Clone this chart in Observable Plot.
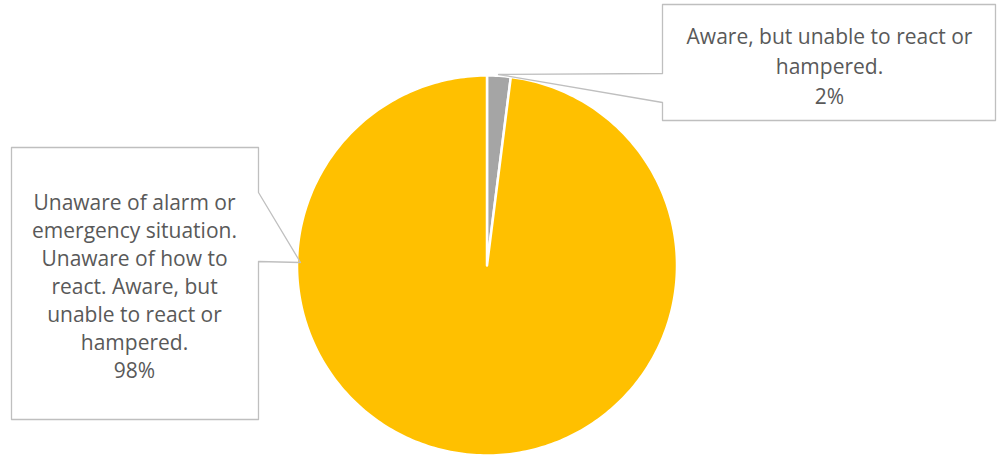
<!DOCTYPE html>
<html><head><meta charset="utf-8">
<script src="https://cdn.jsdelivr.net/npm/d3@7"></script>
<script src="https://cdn.jsdelivr.net/npm/@observablehq/plot@0.6"></script>
<style>body{margin:0;background:#fff;} svg{display:block;}</style>
</head><body><div id="chart"></div>
<script>
// ---- data ----
const categories = [
  "Aware, but unable to react or hampered.",
  "Unaware of alarm or emergency situation. Unaware of how to react. Aware, but unable to react or hampered."
];
const values = [2, 98];
const sliceColors = ["#A5A5A5", "#FFC000"];
const labelLines = [
  ["Aware, but unable to react or", "hampered."],
  ["Unaware of alarm or", "emergency situation.", "Unaware of how to", "react. Aware, but", "unable to react or", "hampered."]
];

// ---- layout ----
const W = 997, H = 456;
const cx = 486.5, cy = 265, R = 190;
const FONT = "Open Sans";
const FS = 21;
const textColor = "#595959";
const calloutColor = "#BFBFBF";

const total = d3.sum(values);
const pctLabels = values.map(v => Math.round(v / total * 100) + "%");

const arcs = d3.pie().sort(null).startAngle(0).endAngle(2 * Math.PI)(values);
const slicePts = [];
arcs.forEach((a, i) => {
  const cat = categories[i];
  slicePts.push({cat, x: cx, y: cy});
  const n = Math.max(4, Math.ceil((a.endAngle - a.startAngle) / (Math.PI / 180)));
  for (let k = 0; k <= n; k++) {
    const t = a.startAngle + (a.endAngle - a.startAngle) * k / n;
    slicePts.push({cat, x: cx + R * Math.sin(t), y: cy - R * Math.cos(t)});
  }
  slicePts.push({cat, x: cx, y: cy});
});

// callout geometry
const boxes = [
  {id: 0, left: 662, top: 4, right: 995, bottom: 120, tip: [498, 74], side: "left", a: 73, b: 102, textX: 829, textY: 37, step: 30},
  {id: 1, left: 11, top: 147, right: 258, bottom: 419, tip: [300, 262], side: "right", a: 192, b: 261, textX: 134, textY: 203, step: 28}
];
const calloutPts = [];
boxes.forEach(b => {
  const pts = b.side === "left"
    ? [[b.left, b.top], [b.right, b.top], [b.right, b.bottom], [b.left, b.bottom], [b.left, b.b], b.tip, [b.left, b.a], [b.left, b.top]]
    : [[b.left, b.top], [b.right, b.top], [b.right, b.a], b.tip, [b.right, b.b], [b.right, b.bottom], [b.left, b.bottom], [b.left, b.top]];
  pts.forEach(([x, y]) => calloutPts.push({id: b.id, x, y}));
});
const textRows = [];
boxes.forEach(b => {
  const lines = [...labelLines[b.id], pctLabels[b.id]];
  lines.forEach((t, i) => textRows.push({t, x: b.textX, y: b.textY + i * b.step}));
});

const chart = Plot.plot({
  width: W, height: H,
  marginTop: 0, marginRight: 0, marginBottom: 0, marginLeft: 0,
  x: {domain: [0, W], range: [0, W], axis: null},
  y: {domain: [0, H], range: [0, H], axis: null},
  color: {domain: categories, range: sliceColors},
  style: {fontFamily: FONT, background: "white", overflow: "visible"},
  marks: [
    Plot.line(slicePts, {x: "x", y: "y", z: "cat", fill: "cat", stroke: "white", strokeWidth: 2.5, strokeLinejoin: "round", curve: "linear"}),
    Plot.line(calloutPts, {x: "x", y: "y", z: "id", stroke: calloutColor, strokeWidth: 1.3, fill: "none", curve: "linear"}),
    Plot.text(textRows, {x: "x", y: "y", text: "t", fill: textColor, fontSize: FS, fontFamily: FONT, textAnchor: "middle"})
  ]
});
document.getElementById("chart").appendChild(chart);
</script>
</body></html>
